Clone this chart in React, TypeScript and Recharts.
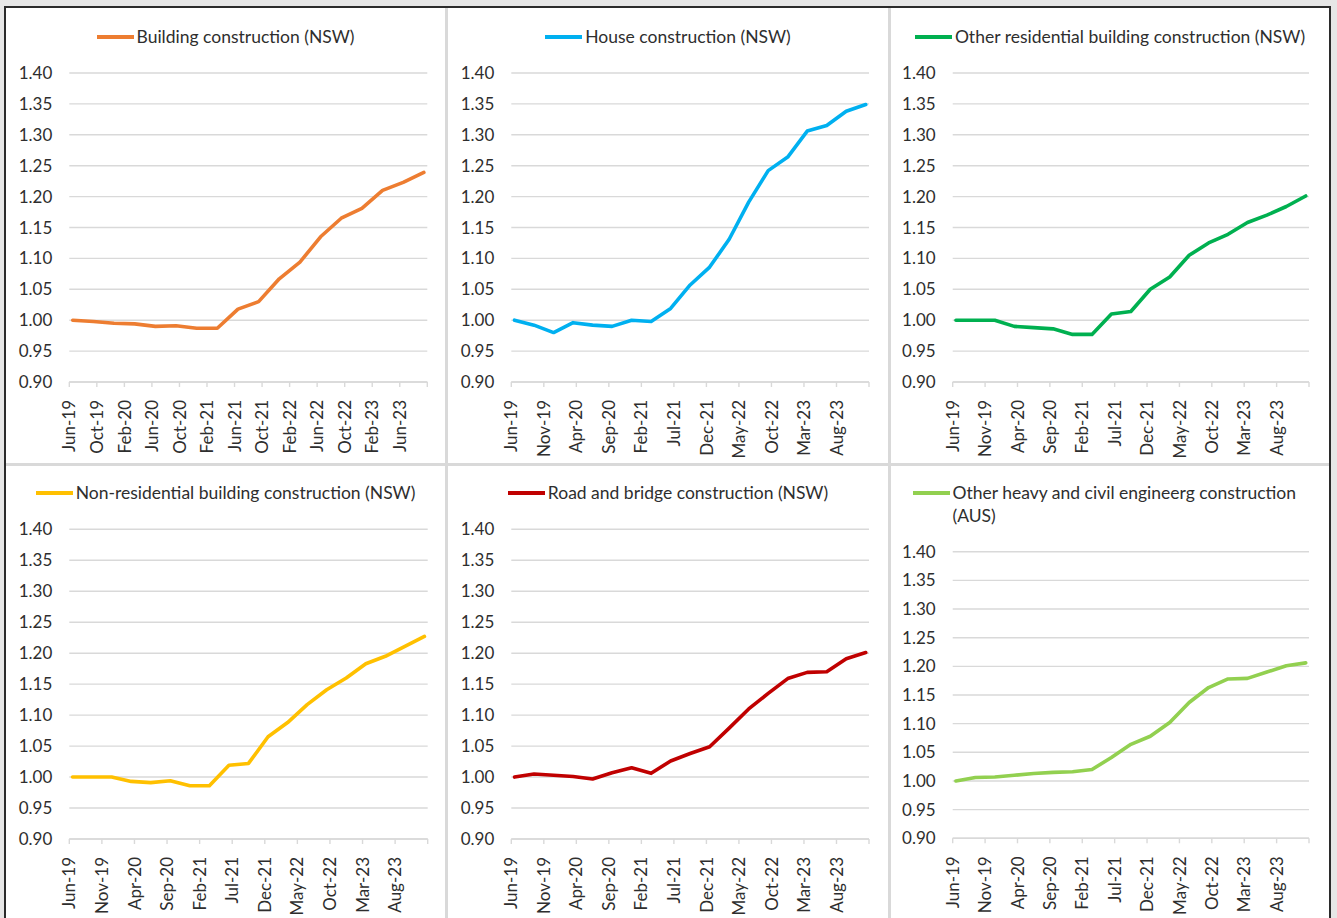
import { CartesianGrid, Legend, Line, LineChart, XAxis, YAxis } from "recharts";

// quarterly index values, Jun-19 = 1.00
const quarters = [
  "Jun-19", "Sep-19", "Dec-19", "Mar-20", "Jun-20", "Sep-20", "Dec-20", "Mar-21", "Jun-21", "Sep-21",
  "Dec-21", "Mar-22", "Jun-22", "Sep-22", "Dec-22", "Mar-23", "Jun-23", "Sep-23", "Dec-23",
];

const buildingNsw = [1.0, 0.998, 0.995, 0.994, 0.99, 0.991, 0.987, 0.987, 1.018, 1.03, 1.067, 1.094, 1.135, 1.165, 1.181, 1.21, 1.223, 1.239];
const houseNsw = [1.0, 0.992, 0.98, 0.996, 0.992, 0.99, 1.0, 0.998, 1.019, 1.057, 1.086, 1.131, 1.191, 1.242, 1.264, 1.306, 1.315, 1.338, 1.349];
const otherResidentialNsw = [1.0, 1.0, 1.0, 0.99, 0.988, 0.986, 0.977, 0.977, 1.01, 1.014, 1.05, 1.07, 1.105, 1.125, 1.139, 1.158, 1.17, 1.184, 1.201];
const nonResidentialNsw = [1.0, 1.0, 1.0, 0.993, 0.991, 0.994, 0.986, 0.986, 1.019, 1.022, 1.065, 1.088, 1.117, 1.141, 1.16, 1.183, 1.195, 1.211, 1.227];
const roadBridgeNsw = [1.0, 1.005, 1.003, 1.001, 0.997, 1.007, 1.015, 1.006, 1.026, 1.038, 1.049, 1.079, 1.11, 1.135, 1.159, 1.169, 1.17, 1.191, 1.201];
const otherHeavyAus = [1.0, 1.006, 1.007, 1.01, 1.013, 1.015, 1.016, 1.02, 1.041, 1.064, 1.078, 1.102, 1.137, 1.163, 1.178, 1.179, 1.19, 1.201, 1.206];

const yTicks = [0.9, 0.95, 1.0, 1.05, 1.1, 1.15, 1.2, 1.25, 1.3, 1.35, 1.4];
const xTicksEvery4 = ["Jun-19", "Oct-19", "Feb-20", "Jun-20", "Oct-20", "Feb-21", "Jun-21", "Oct-21", "Feb-22", "Jun-22", "Oct-22", "Feb-23", "Jun-23"];
const xTicksEvery5 = ["Jun-19", "Nov-19", "Apr-20", "Sep-20", "Feb-21", "Jul-21", "Dec-21", "May-22", "Oct-22", "Mar-23", "Aug-23"];

const MONTHS = ["Jan", "Feb", "Mar", "Apr", "May", "Jun", "Jul", "Aug", "Sep", "Oct", "Nov", "Dec"];
const FONT = "Lato, 'Noto Sans', sans-serif";
const TEXT = "#2e2e2e";
const GRID = "#d9d9d9";
const FS = 17;

function monthsFromStart(label: string) {
  const [m, y] = label.split("-");
  return (Number(y) - 19) * 12 + MONTHS.indexOf(m) - 5;
}

function XTick({ x, y, payload, labels }: any) {
  const text = labels[payload.value] ?? "";
  return (
    <g transform={`translate(${x},${y})`}>
      <text transform="rotate(-90)" textAnchor="end" dy="0.36em" fill={TEXT} fontSize={FS} fontFamily={FONT}>
        {text}
      </text>
    </g>
  );
}

type PanelProps = {
  title: string;
  color: string;
  values: number[];
  tickLabels: string[];
  left: number;
  top: number;
  width: number;
  height: number;
  plotLeft: number;
  plotRight: number;
  plotTop: number;
  plotBottom: number;
  legendTop: number;
  legendMax?: number;
};

function Panel(p: PanelProps) {
  const data = p.values.map((v, i) => ({ m: monthsFromStart(quarters[i]) + 0.5, v }));
  const tickValues = p.tickLabels.map(monthsFromStart);
  const step = tickValues[1] - tickValues[0];
  const axisEnd = tickValues[tickValues.length - 1] + step;
  const labels: Record<number, string> = {};
  p.tickLabels.forEach((l, i) => (labels[tickValues[i]] = l));

  return (
    <div style={{ position: "absolute", left: p.left, top: p.top, width: p.width, height: p.height, background: "#fff" }}>
      <LineChart
        width={p.width}
        height={p.height}
        data={data}
        margin={{ top: p.plotTop, right: p.width - p.plotRight, bottom: 0, left: 0 }}
      >
        <CartesianGrid vertical={false} stroke={GRID} strokeWidth={1.4} />
        <XAxis
          type="number"
          dataKey="m"
          domain={[0, axisEnd]}
          ticks={[...tickValues, axisEnd]}
          interval={0}
          height={p.height - p.plotBottom}
          tickSize={5}
          tickMargin={13}
          axisLine={{ stroke: GRID, strokeWidth: 1.4 }}
          tickLine={{ stroke: GRID, strokeWidth: 1.4 }}
          tick={(tp: any) => <XTick {...tp} labels={labels} />}
        />
        <YAxis
          domain={[0.9, 1.4]}
          ticks={yTicks}
          interval={0}
          width={p.plotLeft}
          axisLine={false}
          tickLine={false}
          tickSize={6}
          tickMargin={11}
          tick={{ fill: TEXT, fontSize: FS, fontFamily: FONT }}
          tickFormatter={(v: number) => v.toFixed(2)}
        />
        <Legend
          verticalAlign="middle"
          align="center"
          layout="horizontal"
          wrapperStyle={{ top: p.legendTop, left: 0, width: p.width }}
          content={() => (
            <div style={{ display: "flex", justifyContent: "center", alignItems: "flex-start", fontFamily: FONT, fontSize: 17.5, lineHeight: "23px", color: TEXT }}>
              <span style={{ width: 37, height: 4, background: p.color, marginTop: 9.5, marginRight: 3, flex: "none" }} />
              <span style={{ maxWidth: p.legendMax ?? 420 }}>{p.title}</span>
            </div>
          )}
        />
        <Line
          type="linear"
          dataKey="v"
          stroke={p.color}
          strokeWidth={3.6}
          strokeLinejoin="round"
          strokeLinecap="round"
          dot={false}
          activeDot={false}
          isAnimationActive={false}
        />
      </LineChart>
    </div>
  );
}

export default function App() {
  return (
    <div style={{ position: "absolute", left: 0, top: 0, width: 1337, height: 918, background: "#e6e6e6", overflow: "hidden" }}>
      <div style={{ position: "absolute", left: 4, top: 6, width: 1327, height: 920, background: "#2b2b2b" }} />
      <div style={{ position: "absolute", left: 6, top: 8, width: 1323, height: 918, background: GRID }} />
      <Panel title="Building construction (NSW)" color="#ED7D31" values={buildingNsw} tickLabels={xTicksEvery4}
        left={6} top={8} width={439} height={455} plotLeft={63.3} plotRight={421.3} plotTop={65} plotBottom={374} legendTop={17} />
      <Panel title="House construction (NSW)" color="#00B0F0" values={houseNsw} tickLabels={xTicksEvery5}
        left={448} top={8} width={440} height={455} plotLeft={63.3} plotRight={421} plotTop={65} plotBottom={374} legendTop={17} />
      <Panel title="Other residential building construction (NSW)" color="#00B050" values={otherResidentialNsw} tickLabels={xTicksEvery5}
        left={891} top={8} width={438} height={455} plotLeft={61.7} plotRight={418} plotTop={65} plotBottom={374} legendTop={17} />
      <Panel title="Non-residential building construction (NSW)" color="#FFC000" values={nonResidentialNsw} tickLabels={xTicksEvery5}
        left={6} top={466} width={439} height={452} plotLeft={63.3} plotRight={421.7} plotTop={63.3} plotBottom={373} legendTop={15} />
      <Panel title="Road and bridge construction (NSW)" color="#C00000" values={roadBridgeNsw} tickLabels={xTicksEvery5}
        left={448} top={466} width={440} height={452} plotLeft={63.3} plotRight={421} plotTop={63.3} plotBottom={373} legendTop={15} />
      <Panel title="Other heavy and civil engineerg construction (AUS)" color="#92D050" values={otherHeavyAus} tickLabels={xTicksEvery5}
        left={891} top={466} width={438} height={452} plotLeft={61.7} plotRight={418} plotTop={85.7} plotBottom={372.3} legendTop={15} legendMax={355} />
    </div>
  );
}
